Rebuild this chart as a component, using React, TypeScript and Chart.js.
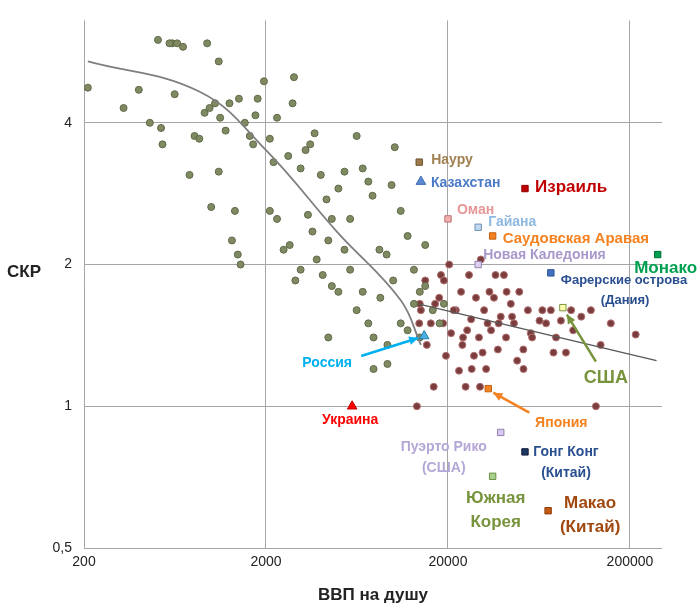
import React, { useEffect, useRef } from "react";
import { Chart, registerables } from "chart.js";
Chart.register(...registerables);

const lowGdp = [210,510,610,650,700,950,1100,400,630,530,540,810,860,920,980,1050,1120,1200,1260,1420,1530,1630,1750,1800,1950,2100,2200,2300,2650,2800,2850,3100,3300,3500,3700,4000,4300,4600,5000,5400,5800,6300,6800,7300,7700,8400,9200,9800,10200,11000,12000,13000,14000,15000,16500,18000,19000,1100,1300,1400,1450,1350,1000,2100,2300,2500,2700,3100,3400,3600,3800,4100,4400,4600,5000,5400,5800,6300,6800,7300,7800,8500,9300,10000,11000,12000,13000,14000,15000,7800,9300,4400,2900,760,590,330,460,1700];
const lowTfr = [4.75,6.0,5.9,5.9,5.8,5.9,5.4,4.7,4.6,3.9,3.6,3.75,3.7,4.2,4.3,4.4,4.1,3.85,4.4,4.5,4.0,3.75,4.15,4.5,4.9,3.7,3.3,4.1,3.4,4.4,5.0,3.2,3.5,3.6,3.8,3.1,2.75,2.5,2.9,3.15,2.5,3.75,3.2,3.0,2.8,2.15,2.1,2.95,3.55,2.6,2.3,1.95,1.75,2.2,1.6,1.5,1.65,3.15,2.25,2.1,2.0,2.6,2.65,2.6,2.5,2.15,2.2,1.95,2.55,2.35,2.05,1.9,2.25,1.8,1.75,2.15,1.95,1.6,1.75,1.5,1.4,1.7,1.35,1.85,1.5,1.45,1.65,1.4,1.8,1.2,1.23,1.4,1.85,3.1,5.9,4.3,4.0,3.6];

const highGdp = [13500,13900,14200,15300,16100,16700,17900,18300,18800,19500,20300,20800,22100,23000,23600,24200,25000,26100,26800,27800,28500,29600,30300,31600,32400,33800,34500,35800,37600,39000,40600,41700,44300,46100,49300,51900,55000,57000,63700,69200,73500,78500,83500,89000,97500,108000,122000,138000,157000,215000,15000,17000,21500,24000,27000,30000,33000,36500,42000,48000,58000,66000,76000,95000,130000,14000,19000,25500,31000,38000,45000,52000];
const highTfr = [1.0,1.5,1.6,1.35,1.5,1.1,1.7,1.9,1.5,1.28,2.0,1.43,1.6,1.19,1.75,1.4,1.1,1.9,1.53,1.28,1.7,1.4,2.05,1.6,1.2,1.75,1.45,1.7,1.32,1.55,1.9,1.4,1.65,1.5,1.75,1.32,1.6,1.43,1.52,1.5,1.6,1.4,1.52,1.3,1.45,1.55,1.6,1.35,1.5,1.42,1.85,1.65,1.6,1.35,1.2,1.1,1.5,1.9,1.75,1.25,1.4,1.6,1.3,1.6,1.0,1.65,1.85,1.45,1.3,1.5,1.55,1.2];

const trendLowGdp = [210, 870, 2000, 4900, 11000, 14200];
const trendLowTfr = [5.4, 4.65, 3.5, 2.35, 1.68, 1.35];
const trendHighGdp = [13700, 280000];
const trendHighTfr = [1.65, 1.25];

type Sp = { name: string[]; gdp: number; tfr: number; shape: string; fill: string; border: string; color: string; dx: number; dy: number; size: number; align: CanvasTextAlign };
const specials: Sp[] = [
  { name: ["Науру"], gdp: 13900, tfr: 3.3, shape: "rect", fill: "#9c7a4a", border: "#6b5030", color: "#a08050", dx: 12, dy: -2, size: 14, align: "left" },
  { name: ["Казахстан"], gdp: 14200, tfr: 3.0, shape: "triangle", fill: "#5b8ad0", border: "#3a6ab0", color: "#4a7ac8", dx: 10, dy: 2, size: 14, align: "left" },
  { name: ["Израиль"], gdp: 53000, tfr: 2.9, shape: "rect", fill: "#c00000", border: "#900000", color: "#c00000", dx: 10, dy: -1, size: 17, align: "left" },
  { name: ["Оман"], gdp: 20000, tfr: 2.5, shape: "rect", fill: "#f2b0b0", border: "#c07070", color: "#e69696", dx: 9, dy: -9, size: 14, align: "left" },
  { name: ["Гайана"], gdp: 29300, tfr: 2.4, shape: "rect", fill: "#c0d8f0", border: "#7090b0", color: "#8fb8e0", dx: 10, dy: -5, size: 14, align: "left" },
  { name: ["Саудовская Аравая"], gdp: 35200, tfr: 2.3, shape: "rect", fill: "#f58220", border: "#c06010", color: "#f58220", dx: 10, dy: 3, size: 15, align: "left" },
  { name: ["Новая Каледония"], gdp: 29300, tfr: 2.0, shape: "rect", fill: "#e0d0f0", border: "#9080b0", color: "#a898cc", dx: 5, dy: -9, size: 14, align: "left" },
  { name: ["Фарерские острова", "(Дания)"], gdp: 73500, tfr: 1.92, shape: "rect", fill: "#4472c4", border: "#2a4f90", color: "#2a4f90", dx: 10, dy: 8, size: 13, align: "left" },
  { name: ["Монако"], gdp: 284000, tfr: 2.1, shape: "rect", fill: "#00a050", border: "#007038", color: "#00a050", dx: 8, dy: 14, size: 17, align: "center" },
  { name: ["США"], gdp: 85600, tfr: 1.62, shape: "rect", fill: "#ffffb0", border: "#77933c", color: "#77933c", dx: 43, dy: 70, size: 18, align: "center" },
  { name: ["Россия"], gdp: 14800, tfr: 1.41, shape: "triangle", fill: "#4ab0e0", border: "#2080b0", color: "#00b0f0", dx: -97, dy: 27, size: 14, align: "center" },
  { name: ["Украина"], gdp: 5950, tfr: 1.0, shape: "triangle", fill: "#ff0000", border: "#c00000", color: "#ff0000", dx: -2, dy: 14, size: 14, align: "center" },
  { name: ["Япония"], gdp: 33300, tfr: 1.09, shape: "rect", fill: "#f58220", border: "#c06010", color: "#f58220", dx: 73, dy: 34, size: 14, align: "center" },
  { name: ["Пуэрто Рико", "(США)"], gdp: 39000, tfr: 0.88, shape: "rect", fill: "#d8c8f0", border: "#9080b0", color: "#b4a7d6", dx: -57, dy: 15, size: 14, align: "center" },
  { name: ["Гонг Конг", "(Китай)"], gdp: 53000, tfr: 0.8, shape: "rect", fill: "#1f3864", border: "#101c38", color: "#2a4f90", dx: 41, dy: 0, size: 14, align: "center" },
  { name: ["Южная", "Корея"], gdp: 35200, tfr: 0.71, shape: "rect", fill: "#a9d18e", border: "#6a9040", color: "#77933c", dx: 3, dy: 22, size: 17, align: "center" },
  { name: ["Макао", "(Китай)"], gdp: 71000, tfr: 0.6, shape: "rect", fill: "#c55a11", border: "#8a3a08", color: "#a0480e", dx: 42, dy: -7, size: 17, align: "center" },
];
const arrows = [
  { from: "Россия", color: "#00b0f0", sx: -63, sy: 20, ex: -6, ey: 2 },
  { from: "Япония", color: "#f58220", sx: 41, sy: 24, ex: 5, ey: 4 },
  { from: "США", color: "#77933c", sx: 33, sy: 54, ex: 4, ey: 7 },
];

const FONT = "'Liberation Sans', Arial, sans-serif";

export default function App() {
  const ref = useRef<HTMLCanvasElement>(null);
  useEffect(() => {
    document.body.style.margin = "0";
    const labelPlugin = {
      id: "labels",
      afterDatasetsDraw(chart: any) {
        const { ctx, scales } = chart;
        const xs = scales.x, ys = scales.y;
        ctx.save();
        for (const a of arrows) {
          const s = specials.find((p) => p.name[0] === a.from)!;
          const px = xs.getPixelForValue(s.gdp), py = ys.getPixelForValue(s.tfr);
          const x1 = px + a.sx, y1 = py + a.sy, x2 = px + a.ex, y2 = py + a.ey;
          ctx.strokeStyle = a.color; ctx.fillStyle = a.color; ctx.lineWidth = 2.5;
          ctx.beginPath(); ctx.moveTo(x1, y1); ctx.lineTo(x2, y2); ctx.stroke();
          const ang = Math.atan2(y2 - y1, x2 - x1);
          ctx.beginPath(); ctx.moveTo(x2, y2);
          ctx.lineTo(x2 - 10 * Math.cos(ang - 0.45), y2 - 10 * Math.sin(ang - 0.45));
          ctx.lineTo(x2 - 10 * Math.cos(ang + 0.45), y2 - 10 * Math.sin(ang + 0.45));
          ctx.closePath(); ctx.fill();
        }
        for (const s of specials) {
          const px = xs.getPixelForValue(s.gdp), py = ys.getPixelForValue(s.tfr);
          ctx.font = `bold ${s.size}px ${FONT}`;
          ctx.fillStyle = s.color; ctx.textAlign = s.align; ctx.textBaseline = "middle";
          s.name.forEach((t, i) => {
            let x = px + s.dx;
            if (s.name[0] === "Фарерские острова" && i === 1) x += 40;
            ctx.fillText(t, x, py + s.dy + i * (s.size + 7));
          });
        }
        ctx.font = `bold 17px ${FONT}`; ctx.fillStyle = "#222"; ctx.textAlign = "center";
        ctx.fillText("СКР", 24, 272);
        ctx.fillText("ВВП на душу", 373, 595);
        ctx.restore();
      },
    };
    const chart = new Chart(ref.current!, {
      type: "scatter",
      data: {
        datasets: [
          ...specials.map((s) => ({
            data: [{ x: s.gdp, y: s.tfr }], pointStyle: s.shape as any, pointRadius: s.shape === "rect" ? 4.5 : 5.5,
            backgroundColor: s.fill, borderColor: s.border, borderWidth: 1,
          })),
          { data: trendLowGdp.map((x, i) => ({ x, y: trendLowTfr[i] })), showLine: true, pointRadius: 0, borderColor: "#7f7f7f", borderWidth: 1.8, tension: 0.4 },
          { data: trendHighGdp.map((x, i) => ({ x, y: trendHighTfr[i] })), showLine: true, pointRadius: 0, borderColor: "#595959", borderWidth: 1.5 },
          { data: lowGdp.map((x, i) => ({ x, y: lowTfr[i] })), pointRadius: 3.5, backgroundColor: "#7f8a62", borderColor: "#5f6a48", borderWidth: 1 },
          { data: highGdp.map((x, i) => ({ x, y: highTfr[i] })), pointRadius: 3.5, backgroundColor: "#7a3c3c", borderColor: "#b07070", borderWidth: 1 },
        ] as any,
      },
      plugins: [labelPlugin],
      options: {
        animation: false, responsive: false,
        layout: { padding: { top: 18, right: 38, left: 0, bottom: 0 } },
        plugins: { legend: { display: false }, tooltip: { enabled: false } },
        scales: {
          x: {
            type: "logarithmic", min: 200, max: 300000,
            afterBuildTicks: (ax: any) => { ax.ticks = [200, 2000, 20000, 200000].map((v) => ({ value: v })); },
            afterFit: (ax: any) => { ax.height = 66; },
            ticks: { callback: (v: any) => String(v), color: "#222", font: { size: 14, family: FONT }, maxRotation: 0, padding: 6 },
            grid: { color: "#a6a6a6", drawTicks: false }, border: { display: false },
          },
          y: {
            type: "logarithmic", min: 0.5, max: 6.6,
            afterBuildTicks: (ax: any) => { ax.ticks = [0.5, 1, 2, 4].map((v) => ({ value: v })); },
            afterFit: (ax: any) => { ax.width = 84; },
            ticks: { callback: (v: any) => String(v).replace(".", ","), color: "#222", font: { size: 14, family: FONT }, padding: 12 },
            grid: { color: "#a6a6a6", drawTicks: false }, border: { display: false },
          },
        },
      },
    });
    return () => chart.destroy();
  }, []);
  return <canvas ref={ref} width={700} height={614} style={{ display: "block" }} />;
}
